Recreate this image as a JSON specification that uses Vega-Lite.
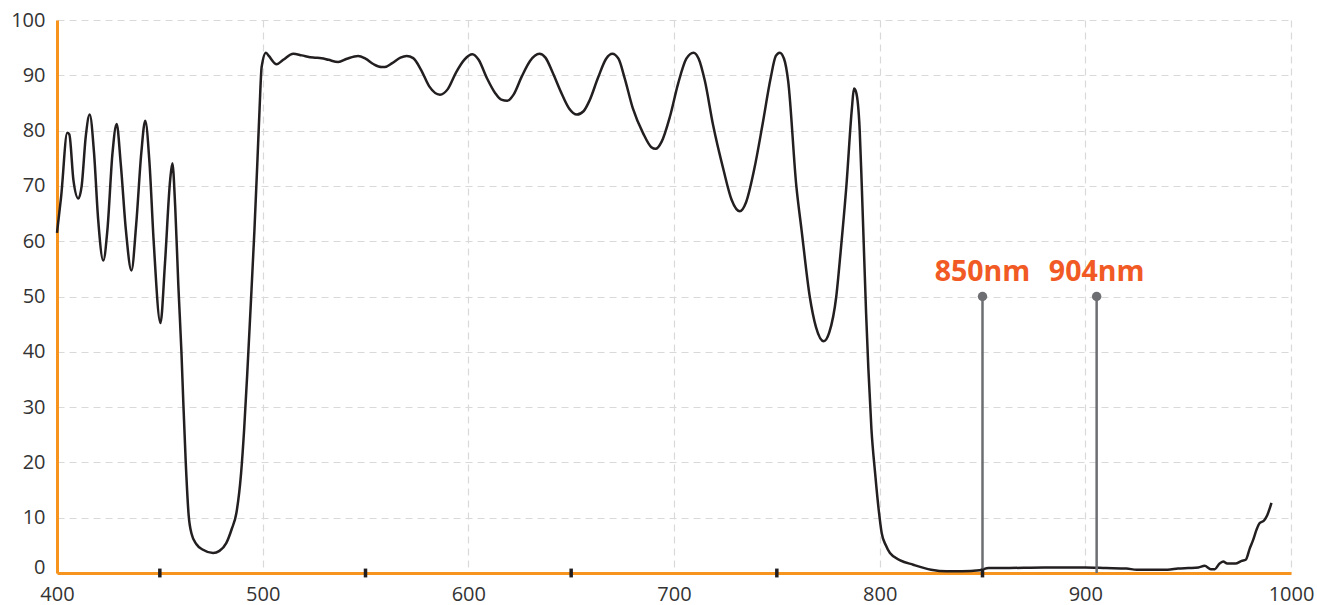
{
  "$schema": "https://vega.github.io/schema/vega-lite/v6.json",
  "width": 1234,
  "height": 553,
  "autosize": {"type": "none"},
  "padding": {"left": 57, "top": 20, "right": 26, "bottom": 32},
  "background": "white",
  "config": {"view": {"stroke": null}},
  "datasets": {
    "curve": [
      {"nm": 400, "v": 61.5}, {"nm": 402, "v": 68}, {"nm": 405, "v": 79.6}, {"nm": 406, "v": 79.3}, {"nm": 408, "v": 71},
      {"nm": 410.4, "v": 67.7}, {"nm": 412, "v": 70}, {"nm": 414, "v": 79}, {"nm": 415.9, "v": 82.9}, {"nm": 418, "v": 76},
      {"nm": 420, "v": 64}, {"nm": 422.5, "v": 56.5}, {"nm": 424.5, "v": 62}, {"nm": 427, "v": 76}, {"nm": 429, "v": 81.2},
      {"nm": 431, "v": 74}, {"nm": 433.5, "v": 62}, {"nm": 436.2, "v": 54.7}, {"nm": 438.5, "v": 63}, {"nm": 441, "v": 76},
      {"nm": 442.9, "v": 81.8}, {"nm": 445, "v": 74}, {"nm": 447, "v": 60}, {"nm": 450.3, "v": 45.2}, {"nm": 452.5, "v": 56},
      {"nm": 455, "v": 71}, {"nm": 456.1, "v": 74.1}, {"nm": 457.5, "v": 66}, {"nm": 459, "v": 52}, {"nm": 460.5, "v": 40},
      {"nm": 461.4, "v": 31}, {"nm": 462.6, "v": 20}, {"nm": 464, "v": 10.5}, {"nm": 465.5, "v": 7}, {"nm": 467.8, "v": 5.2}, {"nm": 471, "v": 4.2},
      {"nm": 475.9, "v": 3.6}, {"nm": 479, "v": 4.0}, {"nm": 482.3, "v": 5.4}, {"nm": 485, "v": 8}, {"nm": 487.2, "v": 10.8},
      {"nm": 489.5, "v": 18}, {"nm": 491, "v": 26}, {"nm": 492.5, "v": 36}, {"nm": 494, "v": 47}, {"nm": 496, "v": 62},
      {"nm": 497.5, "v": 75}, {"nm": 498.5, "v": 84}, {"nm": 499.5, "v": 91.5}, {"nm": 501.6, "v": 94.1}, {"nm": 503, "v": 93.5}, {"nm": 506.8, "v": 92},
      {"nm": 510, "v": 92.8}, {"nm": 514.9, "v": 93.9}, {"nm": 519, "v": 93.6}, {"nm": 524.6, "v": 93.2}, {"nm": 528.6, "v": 93.1},
      {"nm": 532, "v": 92.8}, {"nm": 536.7, "v": 92.4}, {"nm": 541, "v": 93}, {"nm": 546.4, "v": 93.5}, {"nm": 550, "v": 93},
      {"nm": 554, "v": 92}, {"nm": 557.8, "v": 91.5}, {"nm": 559.4, "v": 91.5}, {"nm": 563, "v": 92.2}, {"nm": 567, "v": 93.2},
      {"nm": 570, "v": 93.5}, {"nm": 573.2, "v": 93.1}, {"nm": 577, "v": 91}, {"nm": 581, "v": 88}, {"nm": 586.2, "v": 86.5},
      {"nm": 590, "v": 87.5}, {"nm": 594, "v": 90.5}, {"nm": 598, "v": 92.8}, {"nm": 602, "v": 93.8}, {"nm": 605, "v": 92.8},
      {"nm": 609, "v": 89.5}, {"nm": 613, "v": 86.8}, {"nm": 616, "v": 85.6}, {"nm": 619, "v": 85.4}, {"nm": 622, "v": 86.5},
      {"nm": 626, "v": 89.8}, {"nm": 630, "v": 92.6}, {"nm": 634.5, "v": 93.9}, {"nm": 637.5, "v": 93.2}, {"nm": 641, "v": 90.5},
      {"nm": 645, "v": 87}, {"nm": 649, "v": 84}, {"nm": 652.8, "v": 82.9}, {"nm": 656, "v": 83.5}, {"nm": 659, "v": 85.5},
      {"nm": 663, "v": 89.5}, {"nm": 667, "v": 93}, {"nm": 670, "v": 93.9}, {"nm": 673, "v": 93}, {"nm": 676, "v": 89.5},
      {"nm": 680, "v": 84}, {"nm": 685, "v": 79.5}, {"nm": 689, "v": 77}, {"nm": 691.1, "v": 76.7}, {"nm": 694, "v": 78},
      {"nm": 698, "v": 82.5}, {"nm": 702, "v": 88.5}, {"nm": 706, "v": 93}, {"nm": 709.5, "v": 94.1}, {"nm": 712, "v": 93},
      {"nm": 715, "v": 89}, {"nm": 719, "v": 81}, {"nm": 724, "v": 73}, {"nm": 728, "v": 67.5}, {"nm": 732, "v": 65.4},
      {"nm": 735, "v": 67}, {"nm": 739, "v": 73}, {"nm": 743, "v": 81}, {"nm": 747, "v": 89.5}, {"nm": 749.5, "v": 93.5},
      {"nm": 751.4, "v": 94.1}, {"nm": 753.5, "v": 93}, {"nm": 755.5, "v": 89}, {"nm": 759.5, "v": 69.9}, {"nm": 762, "v": 62.1},
      {"nm": 766, "v": 50}, {"nm": 769, "v": 44.5}, {"nm": 772.8, "v": 41.9}, {"nm": 775.5, "v": 43.5}, {"nm": 778.9, "v": 50},
      {"nm": 781, "v": 58}, {"nm": 783.8, "v": 69.9}, {"nm": 786.5, "v": 84}, {"nm": 787.5, "v": 87.6}, {"nm": 788.5, "v": 87},
      {"nm": 790.3, "v": 80}, {"nm": 791.3, "v": 70}, {"nm": 792.3, "v": 59}, {"nm": 793.4, "v": 47}, {"nm": 794.5, "v": 37},
      {"nm": 796, "v": 26}, {"nm": 797.8, "v": 18}, {"nm": 799.5, "v": 11.5}, {"nm": 801, "v": 7.2}, {"nm": 803, "v": 5}, {"nm": 805, "v": 3.6}, {"nm": 810, "v": 2.3},
      {"nm": 816.3, "v": 1.5}, {"nm": 825, "v": 0.6}, {"nm": 832.5, "v": 0.3}, {"nm": 840, "v": 0.3}, {"nm": 848.6, "v": 0.5},
      {"nm": 853, "v": 0.9}, {"nm": 860, "v": 0.9}, {"nm": 880, "v": 1.0}, {"nm": 900, "v": 1.0}, {"nm": 910, "v": 0.9},
      {"nm": 920, "v": 0.8}, {"nm": 925, "v": 0.6}, {"nm": 940, "v": 0.6}, {"nm": 945, "v": 0.8}, {"nm": 950, "v": 0.9},
      {"nm": 955, "v": 1.0}, {"nm": 958, "v": 1.3}, {"nm": 961, "v": 0.7}, {"nm": 963, "v": 0.7}, {"nm": 965, "v": 1.6},
      {"nm": 967, "v": 2.1}, {"nm": 969, "v": 1.7}, {"nm": 973, "v": 1.7}, {"nm": 976, "v": 2.2}, {"nm": 978, "v": 2.4},
      {"nm": 980, "v": 4.5}, {"nm": 981.6, "v": 6.0}, {"nm": 983.2, "v": 7.8}, {"nm": 984.7, "v": 9.0}, {"nm": 986.9, "v": 9.5},
      {"nm": 988.5, "v": 10.5}, {"nm": 990.5, "v": 12.7}
    ],
    "ticks": [{"nm": 450}, {"nm": 550}, {"nm": 650}, {"nm": 750}, {"nm": 850}],
    "marks": [
      {"nm": 850, "v": 50, "label": "850nm"},
      {"nm": 905.5, "v": 50, "label": "904nm"}
    ]
  },
  "layer": [
    {
      "data": {"name": "curve"},
      "mark": {"type": "line", "interpolate": "monotone", "color": "#231f20", "strokeWidth": 2.5},
      "encoding": {
        "x": {
          "field": "nm", "type": "quantitative",
          "scale": {"domain": [400, 1000], "nice": false, "zero": false},
          "axis": {
            "title": null, "values": [400, 500, 600, 700, 800, 900, 1000], "format": "d",
            "grid": true, "gridColor": "#d9d9d9", "gridDash": [7, 5], "gridWidth": 1.2,
            "ticks": false, "domainColor": "#f7941d", "domainWidth": 3,
            "labelFont": "Open Sans", "labelFontSize": 20, "labelColor": "#333333",
            "labelPadding": 11, "labelFlush": false, "labelOverlap": false
          }
        },
        "y": {
          "field": "v", "type": "quantitative",
          "scale": {"domain": [0, 100], "nice": false},
          "axis": {
            "title": null, "values": [0, 10, 20, 30, 40, 50, 60, 70, 80, 90, 100], "format": "d",
            "grid": true, "gridColor": "#d9d9d9", "gridDash": [7, 5], "gridWidth": 1.2,
            "ticks": false, "domainColor": "#f7941d", "domainWidth": 3,
            "labelFont": "Open Sans", "labelFontSize": 20, "labelColor": "#333333",
            "labelPadding": 12, "labelOverlap": false,
            "labelOffset": {"condition": {"test": "datum.value === 0", "value": -6}, "value": 0}
          }
        }
      }
    },
    {
      "data": {"name": "marks"},
      "mark": {"type": "rule", "color": "#6d6e71", "strokeWidth": 2.5},
      "encoding": {
        "x": {"field": "nm", "type": "quantitative"},
        "y": {"field": "v", "type": "quantitative"},
        "y2": {"datum": 0}
      }
    },
    {
      "data": {"name": "marks"},
      "mark": {"type": "point", "filled": true, "color": "#6d6e71", "size": 90, "opacity": 1},
      "encoding": {
        "x": {"field": "nm", "type": "quantitative"},
        "y": {"field": "v", "type": "quantitative"}
      }
    },
    {
      "data": {"name": "marks"},
      "mark": {"type": "text", "color": "#f15a24", "font": "Open Sans", "fontWeight": "bold", "fontSize": 28.5, "dy": -16, "baseline": "alphabetic", "align": "center"},
      "encoding": {
        "x": {"field": "nm", "type": "quantitative"},
        "y": {"field": "v", "type": "quantitative"},
        "text": {"field": "label"}
      }
    },
    {
      "data": {"name": "ticks"},
      "mark": {"type": "rule", "color": "#231f20", "strokeWidth": 3.5},
      "encoding": {
        "x": {"field": "nm", "type": "quantitative"},
        "y": {"datum": -0.8},
        "y2": {"datum": 0.8}
      }
    }
  ]
}
